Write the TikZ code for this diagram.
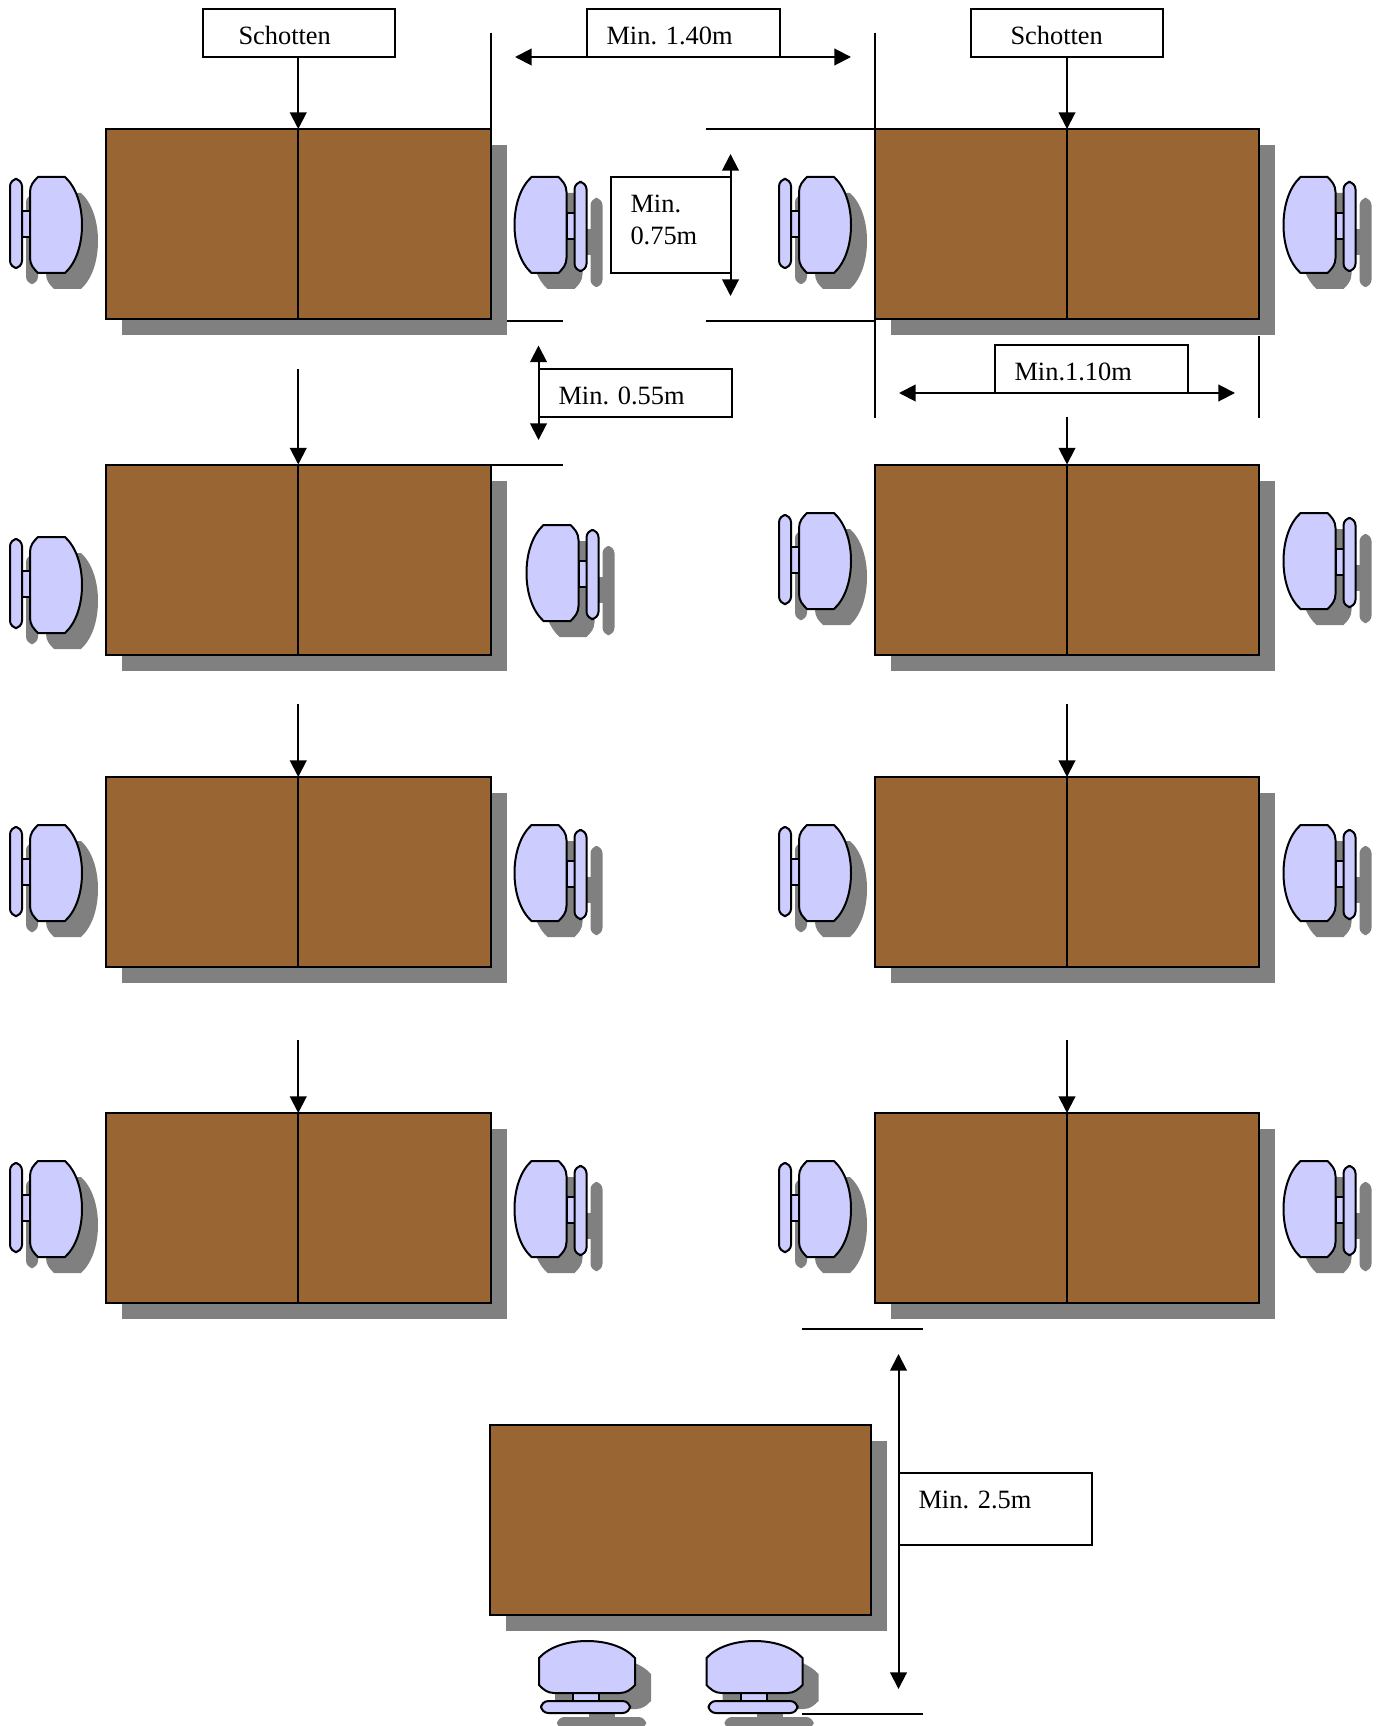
\documentclass[tikz,border=0pt]{standalone}
\usepackage{fontspec}
\setmainfont{Liberation Serif}
\usetikzlibrary{arrows.meta,shadows}
\definecolor{deskbrown}{RGB}{153,102,51}
\definecolor{seatblue}{RGB}{204,204,255}
\definecolor{shadegrey}{RGB}{128,128,128}
\tikzset{
  plain/.style={line width=1.5pt},
  dimline/.style={plain,{Triangle[length=12.5pt,width=12.5pt]}-{Triangle[length=12.5pt,width=12.5pt]}},
  partition/.style={plain,-{Triangle[length=12.5pt,width=12.5pt]}},
  desk/.style={draw,plain,fill=deskbrown,outer sep=0pt,minimum width=#1*0.75pt,minimum height=142.5pt,inner sep=0pt,
    drop shadow={shadow xshift=12pt,shadow yshift=-12pt,fill=shadegrey,opacity=1}},
  desk/.default=384.5,
  notebox/.style 2 args={draw,plain,fill=white,outer sep=0pt,anchor=north west,align=left,font=\fontsize{19.8}{24}\selectfont\frenchspacing,
    inner xsep=15pt,inner ysep=0pt,text width=0.75*#1-30,text height=26.4pt,text depth=0.75*#2-26.4},
  chairpart/.style={draw=black,plain,fill=seatblue},
  chairshade/.style={fill=shadegrey},
  padcorner/.style={rounded corners=5.5pt},
}
%one chair: stem, back pad and seat around the origin of the scope
\newcommand{\chairshape}[1]{%
  \path[#1] (-34,-14) rectangle (-26,12);
  \path[#1,padcorner] (-46,-46) rectangle (-34,43);
  \path[#1] (-26,-33) .. controls (-26,-40) and (-22,-44) .. (-18,-48) -- (9,-48)
    .. controls (20,-38) and (26,-20) .. (26,0) .. controls (26,20) and (20,38) .. (9,48) -- (-18,48)
    .. controls (-22,44) and (-26,40) .. (-26,33) -- cycle;
}
\newcommand{\seat}[3]{%
  \begin{scope}[shift={(#1+16,#2+16)},rotate=#3]
    \chairshape{chairshade}
  \end{scope}
  \begin{scope}[shift={(#1,#2)},rotate=#3]
    \chairshape{chairpart}
  \end{scope}
}
\begin{document}
\begin{tikzpicture}[x=0.75pt,y=0.75pt,yscale=-1,xscale=1]
\useasboundingbox (0,0) rectangle (1378,1726);

%Desks, left column
\node[desk] (deskLa) at (298.25,224) {};
\node[desk] (deskLb) at (298.25,559.5) {};
\node[desk] (deskLc) at (298.25,872) {};
\node[desk] (deskLd) at (298.25,1208) {};
%Desks, right column
\node[desk] (deskRa) at (1067,224) {};
\node[desk] (deskRb) at (1067,559.5) {};
\node[desk] (deskRc) at (1067,872) {};
\node[desk] (deskRd) at (1067,1208) {};
%Front desk
\node[desk=380.5] (deskF) at (680.5,1520) {};

%Partitions inside the desks
\draw[plain] (deskLa.north) -- (deskLa.south);
\draw[plain] (deskLb.north) -- (deskLb.south);
\draw[plain] (deskLc.north) -- (deskLc.south);
\draw[plain] (deskLd.north) -- (deskLd.south);
\draw[plain] (deskRa.north) -- (deskRa.south);
\draw[plain] (deskRb.north) -- (deskRb.south);
\draw[plain] (deskRc.north) -- (deskRc.south);
\draw[plain] (deskRd.north) -- (deskRd.south);

%Chairs, left column
\seat{56}{225}{0}
\seat{540.5}{225}{180}
\seat{56}{585}{0}
\seat{552.5}{573}{180}
\seat{56}{873}{0}
\seat{540.5}{873}{180}
\seat{56}{1209}{0}
\seat{540.5}{1209}{180}
%Chairs, right column
\seat{825}{225}{0}
\seat{1309.5}{225}{180}
\seat{825}{561}{0}
\seat{1309.5}{561}{180}
\seat{825}{873}{0}
\seat{1309.5}{873}{180}
\seat{825}{1209}{0}
\seat{1309.5}{1209}{180}
%Chairs at the front desk
\seat{587}{1667}{-90}
\seat{754.5}{1667}{-90}

%Free ends of the construction lines
\coordinate (topL) at (490.5,33);
\coordinate (topM) at (874.5,33);
\coordinate (lowM) at (874.5,418);
\coordinate (topR) at (1258.5,336);
\coordinate (lowR) at (1258.5,418);
\coordinate (aisleAw) at (705.5,129);
\coordinate (aisleAe) at (874.5,129);
\coordinate (aisleBw) at (507,321);
\coordinate (aisleBe) at (562.5,321);
\coordinate (aisleCw) at (705.5,321);
\coordinate (aisleCe) at (874.5,321);
\coordinate (aisleDw) at (490.5,465);
\coordinate (aisleDe) at (562.5,465);
\coordinate (frontAw) at (802,1329);
\coordinate (frontAe) at (922.5,1329);
\coordinate (frontBw) at (802,1714);
\coordinate (frontBe) at (923,1714);

%Construction lines
\draw[plain] (topL) -- (deskLa.north east);
\draw[plain] (topM) -- (lowM);
\draw[plain] (topR) -- (lowR);
\draw[plain] (aisleAw) -- (aisleAe);
\draw[plain] (aisleBw) -- (aisleBe);
\draw[plain] (aisleCw) -- (aisleCe);
\draw[plain] (aisleDw) -- (aisleDe);
\draw[plain] (frontAw) -- (frontAe);
\draw[plain] (frontBw) -- (frontBe);

%Text boxes
\node[notebox={192.5}{48}] (schottenL) at (202.5,9) {\hspace*{12pt}Schotten};
\node[notebox={192.5}{48}] (schottenR) at (970.5,9) {\hspace*{15pt}Schotten};
\node[notebox={193}{48}] (minAisle) at (586.5,9) {Min. 1.40m};
\node[notebox={120}{96}] (minDepth) at (610.5,177) {Min.\\0.75m};
\node[notebox={193}{48}] (minGap) at (538.5,369) {Min. 0.55m};
\node[notebox={193}{48}] (minWidth) at (994.5,345) {Min.1.10m};
\node[notebox={193}{72}] (minFront) at (898.5,1473) {Min. 2.5m};

%Dimension arrows
\coordinate (aisleW) at (515,57);
\coordinate (aisleE) at (851,57);
\coordinate (depthN) at (730.5,154);
\coordinate (depthS) at (730.5,296);
\coordinate (gapN) at (538.5,345.5);
\coordinate (gapS) at (538.5,440);
\coordinate (widthW) at (899,393);
\coordinate (widthE) at (1235,393);
\coordinate (frontN) at (898.5,1354);
\coordinate (frontS) at (898.5,1689);
\draw[dimline] (aisleW) -- (aisleE);
\draw[dimline] (depthN) -- (depthS);
\draw[dimline] (gapN) -- (gapS);
\draw[dimline] (widthW) -- (widthE);
\draw[dimline] (frontN) -- (frontS);

%Arrows down to the partitions
\coordinate (rowLb) at (298.25,369);
\coordinate (rowLc) at (298.25,704);
\coordinate (rowLd) at (298.25,1040);
\coordinate (rowRb) at (1067,417);
\coordinate (rowRc) at (1067,704);
\coordinate (rowRd) at (1067,1040);
\draw[partition] (schottenL.south -| deskLa.north) -- (deskLa.north);
\draw[partition] (schottenR.south -| deskRa.north) -- (deskRa.north);
\draw[partition] (rowLb) -- (deskLb.north);
\draw[partition] (rowLc) -- (deskLc.north);
\draw[partition] (rowLd) -- (deskLd.north);
\draw[partition] (rowRb) -- (deskRb.north);
\draw[partition] (rowRc) -- (deskRc.north);
\draw[partition] (rowRd) -- (deskRd.north);

\end{tikzpicture}
\end{document}
